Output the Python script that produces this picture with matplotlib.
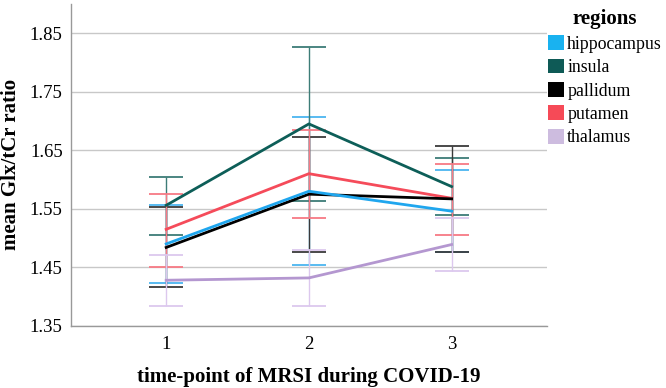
"""Mean Glx/tCr ratio per region over three MRSI time-points, with error bars."""

import matplotlib

matplotlib.use("Agg")
import matplotlib.patches as patches
import matplotlib.pyplot as plt

time_points = [1, 2, 3]
regions = ["hippocampus", "insula", "pallidum", "putamen", "thalamus"]

hippocampus_mean = [1.490, 1.580, 1.546]
hippocampus_low = [1.423, 1.454, 1.476]
hippocampus_high = [1.556, 1.707, 1.617]

insula_mean = [1.556, 1.695, 1.588]
insula_low = [1.505, 1.563, 1.539]
insula_high = [1.605, 1.826, 1.637]

pallidum_mean = [1.484, 1.575, 1.567]
pallidum_low = [1.416, 1.477, 1.476]
pallidum_high = [1.553, 1.673, 1.658]

putamen_mean = [1.515, 1.610, 1.568]
putamen_low = [1.450, 1.535, 1.506]
putamen_high = [1.576, 1.685, 1.626]

thalamus_mean = [1.428, 1.432, 1.489]
thalamus_low = [1.384, 1.384, 1.444]
thalamus_high = [1.471, 1.480, 1.535]

y_ticks = [1.35, 1.45, 1.55, 1.65, 1.75, 1.85]

series = {
    "hippocampus": (hippocampus_mean, hippocampus_low, hippocampus_high),
    "insula": (insula_mean, insula_low, insula_high),
    "pallidum": (pallidum_mean, pallidum_low, pallidum_high),
    "putamen": (putamen_mean, putamen_low, putamen_high),
    "thalamus": (thalamus_mean, thalamus_low, thalamus_high),
}
line_colors = {
    "hippocampus": "#1fa6ee",
    "insula": "#0d5e58",
    "pallidum": "#000000",
    "putamen": "#f54b5a",
    "thalamus": "#b497d0",
}
bar_colors = {
    "hippocampus": "#4bb5f0",
    "insula": "#3d7c77",
    "pallidum": "#3a3a3a",
    "putamen": "#f77a85",
    "thalamus": "#dcc8ee",
}
patch_colors = {
    "hippocampus": "#19b2f0",
    "insula": "#0e5a56",
    "pallidum": "#000000",
    "putamen": "#f64a57",
    "thalamus": "#cdbcdf",
}

plt.rcParams["font.family"] = ["Liberation Serif", "DejaVu Serif"]

fig = plt.figure(figsize=(6.66, 3.88), dpi=100)
ax = fig.add_axes([0.1066, 0.160, 0.7144, 0.830])

# error bars first, the mean lines go on top
for name in regions:
    mean, low, high = series[name]
    err = [[m - lo for m, lo in zip(mean, low)], [hi - m for m, hi in zip(mean, high)]]
    ax.errorbar(time_points, mean, yerr=err, fmt="none", ecolor=bar_colors[name],
                elinewidth=1.0, capsize=12, capthick=1.3, zorder=2)

for name in ["thalamus", "putamen", "insula", "pallidum", "hippocampus"]:
    mean = series[name][0]
    ax.plot(time_points, mean, color=line_colors[name], linewidth=2.0, zorder=3)

ax.set_xlim(0.333, 3.667)
ax.set_ylim(1.35, 1.90)
ax.set_xticks(time_points)
ax.set_xticklabels([str(t) for t in time_points], fontsize=13.5)
ax.set_yticks(y_ticks)
ax.set_yticklabels([f"{v:.2f}" for v in y_ticks], fontsize=13.5)
ax.tick_params(axis="y", length=0, pad=6)
ax.tick_params(axis="x", length=0, pad=7)
ax.grid(axis="y", color="#c8c8c8", linewidth=1.0, zorder=0)
ax.set_axisbelow(True)
for side in ["top", "right"]:
    ax.spines[side].set_visible(False)
for side in ["left", "bottom"]:
    ax.spines[side].set_color("#999999")
    ax.spines[side].set_linewidth(1.0)

ax.set_xlabel("time-point of MRSI during COVID-19", fontsize=15, fontweight="bold", labelpad=10)
ax.set_ylabel("mean Glx/tCr ratio", fontsize=15, fontweight="bold", labelpad=6)

handles = [patches.Patch(facecolor=patch_colors[name], edgecolor="none") for name in regions]
leg = fig.legend(handles, regions, title="regions", loc="upper left",
                 bbox_to_anchor=(0.817, 0.985), frameon=False, fontsize=12.8,
                 handlelength=0.9, handleheight=0.9, handletextpad=0.2,
                 labelspacing=0.33, borderaxespad=0, borderpad=0.2,
                 alignment="center")
leg.get_title().set_fontweight("bold")
leg.get_title().set_fontsize(15)

fig.savefig("out.png", dpi=100)
